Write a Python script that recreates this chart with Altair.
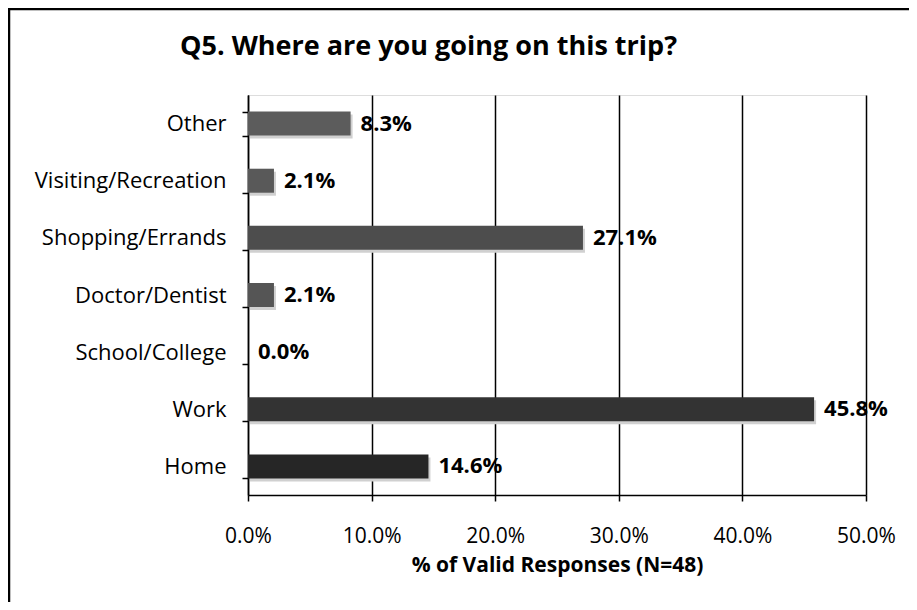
import altair as alt
import pandas as pd

title_text = "Q5. Where are you going on this trip?"
categories = ["Other", "Visiting/Recreation", "Shopping/Errands", "Doctor/Dentist",
              "School/College", "Work", "Home"]
percents = [8.3, 2.1, 27.1, 2.1, 0.0, 45.8, 14.6]
bar_colors = ["#5c5c5c", "#595959", "#4d4d4d", "#555555", "#555555", "#333333", "#262626"]
x_ticks = [0.0, 0.1, 0.2, 0.3, 0.4, 0.5]

df = pd.DataFrame({"cat": categories, "share": [p / 100 for p in percents], "color": bar_colors})

FONT = "Open Sans"

y_enc = alt.Y("cat:N", sort=categories,
              scale=alt.Scale(paddingInner=0.58, paddingOuter=0.29),
              axis=alt.Axis(title=None, labelFontSize=22, labelColor="black", labelFont=FONT,
                            labelPadding=16, labelLimit=400, tickSize=6, tickColor="black",
                            tickWidth=1.5, tickBand="extent", domainColor="black",
                            domainWidth=1.5, grid=False))
x_enc = alt.X("share:Q", scale=alt.Scale(domain=[0, 0.5], nice=False),
              axis=alt.Axis(values=x_ticks, format=".1%", title="% of Valid Responses (N=48)",
                            titleFont=FONT, titleFontSize=21, titleFontWeight="bold",
                            titleColor="black", titlePadding=8, labelFlush=False,
                            labelFont=FONT, labelFontSize=21, labelColor="black", labelPadding=24,
                            tickSize=6, tickColor="black", tickWidth=1.5,
                            domainColor="black", domainWidth=1.5,
                            grid=True, gridColor="black", gridWidth=1.5))

base = alt.Chart(df)

shadow = base.mark_bar(color="#d0d0d0", xOffset=2, yOffset=3).encode(x=x_enc, y=y_enc)
bars = base.mark_bar().encode(x=x_enc, y=y_enc,
                              color=alt.Color("color:N", scale=None))
labels = base.mark_text(align="left", baseline="middle", dx=10, font=FONT, fontSize=22,
                        fontWeight="bold", color="black").encode(
    x=x_enc, y=y_enc, text=alt.Text("share:Q", format=".1%"))

one = pd.DataFrame({"t": [title_text]})
frame = alt.Chart(one).mark_rect(
    fill=None, stroke="black", strokeWidth=2.5).encode(
    x=alt.value(-239), x2=alt.value(720), y=alt.value(-86), y2=alt.value(640))
title = alt.Chart(one).mark_text(
    align="left", baseline="alphabetic", font=FONT, fontSize=27, fontWeight="bold",
    color="black").encode(x=alt.value(-68), y=alt.value(-40), text="t:N")

chart = alt.layer(frame, shadow, bars, labels, title).properties(
    width=618, height=400,
    padding={"left": 240, "top": 87, "right": 43, "bottom": 107},
    autosize=alt.AutoSizeParams(type="none"),
).configure_view(stroke=None).configure(background="white")

chart.save("out.html", embed_options={"renderer": "svg", "actions": False})
